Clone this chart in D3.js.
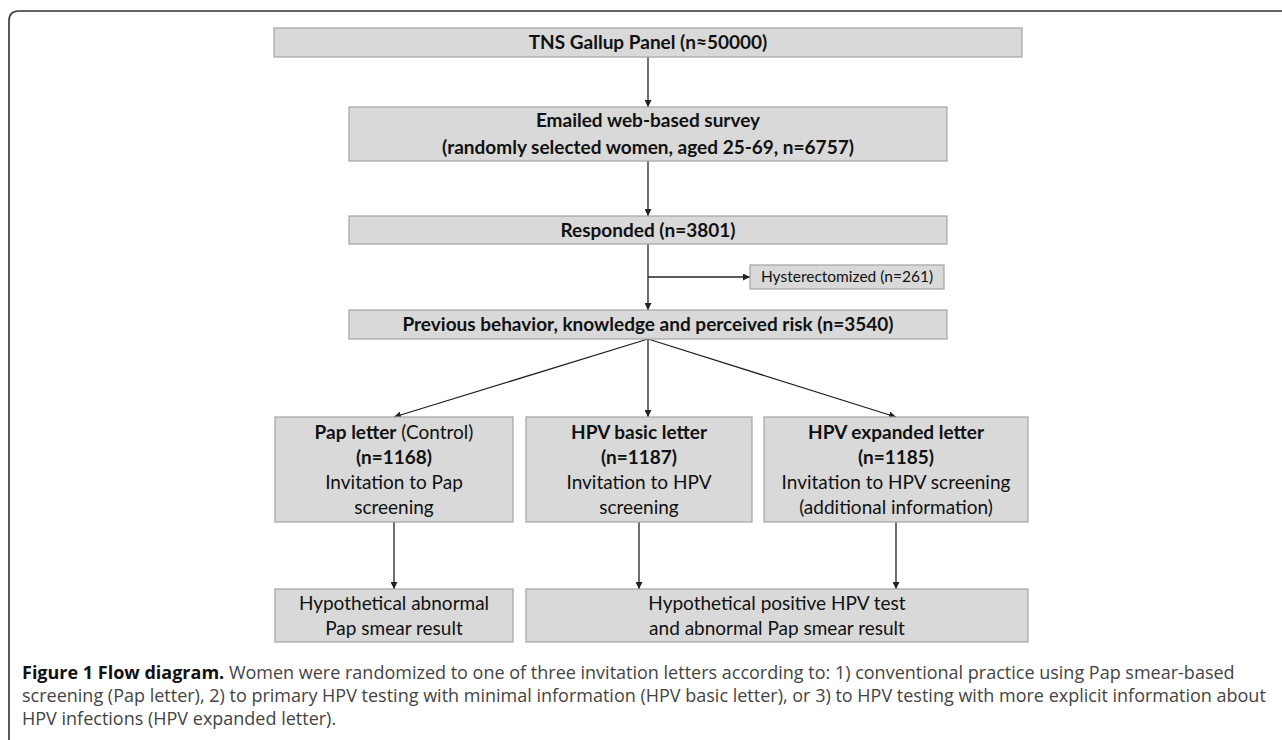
<!DOCTYPE html>
<html>
<head>
<meta charset="utf-8">
<script src="https://cdn.jsdelivr.net/npm/d3@7"></script>
<style>
  html, body { margin: 0; padding: 0; background: #fff; }
  svg { display: block; }
  .box { fill: #d9d9d9; stroke: #a3a3a3; stroke-width: 1.2; }
  .link { stroke: #222; stroke-width: 1.3; fill: none; }
  .boxtext { font-family: Lato, "Noto Sans", sans-serif; fill: #111; }
  .caption { font-family: "Open Sans", "Noto Sans", sans-serif; font-size: 18px; fill: #444; }
</style>
</head>
<body>
<div id="chart"></div>
<script>
// --- data ---
const topStages = [
  { id: "panel", lines: [[{ t: "TNS Gallup Panel (n\u224850000)", b: true }]] },
  { id: "survey", lines: [
      [{ t: "Emailed web-based survey", b: true }],
      [{ t: "(randomly selected women, aged 25-69, n=6757)", b: true }]] },
  { id: "responded", lines: [[{ t: "Responded (n=3801)", b: true }]] },
  { id: "previous", lines: [[{ t: "Previous behavior, knowledge and perceived risk (n=3540)", b: true }]] }
];
const excluded = { id: "hyst", lines: [[{ t: "Hysterectomized (n=261)", b: false }]] };

const armNames = ["Pap letter", "HPV basic letter", "HPV expanded letter"];
const armNotes = [" (Control)", "", ""];
const armN = [1168, 1187, 1185];
const armInvites = [
  ["Invitation to Pap", "screening"],
  ["Invitation to HPV", "screening"],
  ["Invitation to HPV screening", "(additional information)"]
];
const outcomes = [
  { id: "abn", arms: [0], lines: ["Hypothetical abnormal", "Pap smear result"] },
  { id: "pos", arms: [1, 2], lines: ["Hypothetical positive HPV test", "and abnormal Pap smear result"] }
];

const captionBold = "Figure 1 Flow diagram.";
const captionLines = [
  " Women were randomized to one of three invitation letters according to: 1) conventional practice using Pap smear-based",
  "screening (Pap letter), 2) to primary HPV testing with minimal information (HPV basic letter), or 3) to HPV testing with more explicit information about",
  "HPV infections (HPV expanded letter)."
];

// --- layout ---
const W = 1282, H = 740;
const stageRects = {
  panel:     { x0: 274, x1: 1022, y0: 28,  y1: 57 },
  survey:    { x0: 349, x1: 947,  y0: 107, y1: 161 },
  responded: { x0: 349, x1: 947,  y0: 216, y1: 244 },
  previous:  { x0: 349, x1: 947,  y0: 310, y1: 339 },
  hyst:      { x0: 750, x1: 944,  y0: 265, y1: 289 }
};
const armX = [[275, 513], [526, 752], [764, 1028]];
const armY = [417, 522];
const outY = [589, 642];

const svg = d3.select("#chart").append("svg")
  .attr("width", W)
  .attr("height", H);

const defs = svg.append("defs");
defs.append("marker")
  .attr("id", "arrow")
  .attr("markerUnits", "userSpaceOnUse")
  .attr("viewBox", "0 0 10 10")
  .attr("refX", 10).attr("refY", 5)
  .attr("markerWidth", 7).attr("markerHeight", 7)
  .attr("orient", "auto")
  .append("path")
  .attr("d", "M0,0 L10,5 L0,10 z")
  .attr("fill", "#222");

// outer frame (rounded top-left corner, open to right and bottom)
svg.append("path")
  .attr("d", `M9,${H} L9,21 Q9,11 19,11 L${W},11`)
  .attr("fill", "none")
  .attr("stroke", "#333")
  .attr("stroke-width", 1.6);

const gLinks = svg.append("g");
const gBoxes = svg.append("g");

function drawBox(r, lines, size, lineH) {
  gBoxes.append("rect")
    .attr("class", "box")
    .attr("x", r.x0).attr("y", r.y0)
    .attr("width", r.x1 - r.x0).attr("height", r.y1 - r.y0);
  const cx = (r.x0 + r.x1) / 2;
  const cy = (r.y0 + r.y1) / 2;
  const first = cy - (lines.length - 1) * lineH / 2;
  lines.forEach((parts, i) => {
    const t = gBoxes.append("text")
      .attr("class", "boxtext")
      .attr("x", cx)
      .attr("y", first + i * lineH)
      .attr("dy", "0.35em")
      .attr("text-anchor", "middle")
      .style("font-size", size + "px");
    parts.forEach(p => {
      t.append("tspan")
        .attr("font-weight", p.b ? "bold" : "normal")
        .style("white-space", "pre")
        .text(p.t);
    });
  });
}

function link(x1, y1, x2, y2) {
  gLinks.append("line")
    .attr("class", "link")
    .attr("x1", x1).attr("y1", y1)
    .attr("x2", x2).attr("y2", y2)
    .attr("marker-end", "url(#arrow)");
}

// top stages
topStages.forEach(s => drawBox(stageRects[s.id], s.lines, 19, 27));
drawBox(stageRects.hyst, excluded.lines, 15.5, 20);

const cx = 648;
for (let i = 0; i < topStages.length - 1; i++) {
  const a = stageRects[topStages[i].id], b = stageRects[topStages[i + 1].id];
  link(cx, a.y1, cx, b.y0);
}
const hr = stageRects.hyst;
link(cx, (hr.y0 + hr.y1) / 2, hr.x0, (hr.y0 + hr.y1) / 2);

// arms
const prev = stageRects.previous;
armNames.forEach((name, i) => {
  const r = { x0: armX[i][0], x1: armX[i][1], y0: armY[0], y1: armY[1] };
  const lines = [
    [{ t: name, b: true }, { t: armNotes[i], b: false }],
    [{ t: `(n=${armN[i]})`, b: true }],
    [{ t: armInvites[i][0], b: false }],
    [{ t: armInvites[i][1], b: false }]
  ];
  drawBox(r, lines, 19, 25);
  const ax = (r.x0 + r.x1) / 2;
  link(cx, prev.y1, i === 1 ? cx : ax, r.y0);
});

// outcomes
outcomes.forEach(o => {
  const x0 = armX[o.arms[0]][0];
  const x1 = armX[o.arms[o.arms.length - 1]][1];
  const r = { x0, x1, y0: outY[0], y1: outY[1] };
  drawBox(r, o.lines.map(t => [{ t, b: false }]), 19, 25);
  o.arms.forEach(a => {
    const ax = (armX[a][0] + armX[a][1]) / 2;
    link(ax, armY[1], ax, r.y0);
  });
});

// caption
const cap = svg.append("g").attr("class", "caption");
captionLines.forEach((line, i) => {
  const t = cap.append("text")
    .attr("x", 22)
    .attr("y", 679 + i * 23);
  if (i === 0) {
    t.append("tspan")
      .attr("font-weight", "bold")
      .attr("fill", "#111")
      .text(captionBold);
  }
  t.append("tspan").style("white-space", "pre").text(line);
});
</script>
</body>
</html>
